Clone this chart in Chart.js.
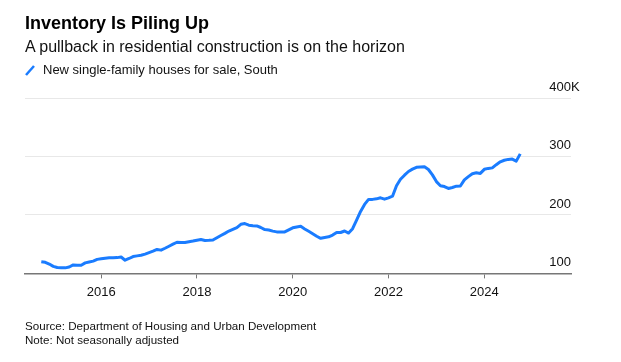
<!DOCTYPE html>
<html>
<head>
<meta charset="utf-8">
<script src="https://cdn.jsdelivr.net/npm/chart.js@4"></script>
<style>
  body { margin: 0; background: #fff; font-family: "Liberation Sans", Arial, sans-serif; }
  #wrap { position: relative; width: 621px; height: 362px; }
  canvas { position: absolute; left: 0; top: 0; }
  .t { position: absolute; left: 25px; white-space: nowrap; color: #000; }
  #title { top: 14px; font-size: 18px; line-height: 18px; font-weight: bold; }
  #sub { top: 39px; font-size: 16px; line-height: 16px; color: #111; }
  #legend { top: 63px; font-size: 13px; line-height: 13px; color: #111; }
  #legend svg { position: absolute; left: 0; top: 2px; }
  #legend span { margin-left: 18px; }
  #foot { top: 319px; font-size: 11.6px; line-height: 14px; color: #111; }
</style>
</head>
<body>
<div id="wrap">
  <canvas id="chart" width="621" height="362"></canvas>
  <div class="t" id="title">Inventory Is Piling Up</div>
  <div class="t" id="sub">A pullback in residential construction is on the horizon</div>
  <div class="t" id="legend">
    <svg width="10" height="11"><line x1="1" y1="10" x2="9" y2="1" stroke="#1a7cff" stroke-width="2.5"/></svg>
    <span>New single-family houses for sale, South</span>
  </div>
  <div class="t" id="foot">Source: Department of Housing and Urban Development<br>Note: Not seasonally adjusted</div>
</div>
<script>
// monthly, starting October 2014 (thousands of houses)
const startYear = 2014;
const startMonth = 10;
const housesForSale = [
  120, 119, 116, 112, 110, 109.5, 109.5, 111, 114.5, 114, 114, 118,
  119.5, 121, 124, 125, 126, 126.6, 126.6, 127, 128, 122.5, 125.5, 128.8,
  130, 131, 133, 135.5, 138, 141, 139.8, 143, 146.5, 150, 153.3, 153,
  152.8, 154, 155.3, 156.8, 158, 156.3, 156.5, 157, 161, 164.8, 168.5, 172.5,
  175.5, 178.4, 184, 185.2, 182.5, 181.5, 181.2, 178.5, 175, 174.2, 172.3, 171,
  171, 171, 174.5, 178, 179.5, 180.5, 176, 172, 167.8, 163.5, 160, 161.5,
  162.5, 165.5, 170, 170, 172.5, 169, 176.5, 191, 206, 218, 226.6, 226.6,
  227.5, 229.3, 227, 229.3, 232, 250, 261, 268, 274.3, 278.3, 281.5, 282.1,
  282.3, 277.7, 268.5, 257, 250, 248.5, 245.3, 247, 249.2, 249.5, 260, 265.5,
  270.5, 272, 271, 278, 279.6, 280.5, 286, 290.8, 293.5, 295, 295.5, 292,
  304.4
];
const xTicks = [2016, 2018, 2020, 2022, 2024];
const yTicks = [100, 200, 300, 400];

const fontFamily = '"Liberation Sans", Arial, sans-serif';

const points = housesForSale.map((v, i) => {
  const m = startMonth - 1 + i;
  return { x: startYear + Math.floor(m / 12) + (m % 12) / 12, y: v };
});

// the "K" hangs to the right of the top label
const kSuffix = {
  id: 'kSuffix',
  afterDraw(chart) {
    const y = chart.scales.y;
    const c = chart.ctx;
    c.save();
    c.font = '13px ' + fontFamily;
    c.fillStyle = '#111';
    c.textAlign = 'left';
    c.textBaseline = 'middle';
    c.fillText('K', chart.chartArea.right, y.getPixelForValue(400) - 11);
    c.restore();
  }
};

const ctx = document.getElementById('chart').getContext('2d');
new Chart(ctx, {
  type: 'line',
  data: {
    datasets: [{
      label: 'New single-family houses for sale, South',
      data: points,
      borderColor: '#1a7cff',
      borderWidth: 3,
      pointRadius: 0,
      tension: 0,
      borderJoinStyle: 'round'
    }]
  },
  options: {
    responsive: false,
    animation: false,
    layout: { padding: { left: 25, right: 50, top: 98, bottom: 56 } },
    plugins: {
      legend: { display: false },
      tooltip: { enabled: false }
    },
    scales: {
      x: {
        type: 'linear',
        min: 2014.41,
        max: 2025.81,
        afterBuildTicks: s => { s.ticks = xTicks.map(v => ({ value: v })); },
        ticks: {
          callback: v => String(v),
          font: { size: 13, family: fontFamily },
          color: '#111',
          padding: 6,
          maxRotation: 0
        },
        grid: { drawOnChartArea: false, tickLength: 5, color: '#777' },
        border: { color: '#777', width: 1.5 }
      },
      y: {
        position: 'right',
        min: 100,
        max: 400,
        afterBuildTicks: s => { s.ticks = yTicks.map(v => ({ value: v })); },
        ticks: {
          mirror: true,
          padding: 0,
          labelOffset: -11,
          font: { size: 13, family: fontFamily },
          color: '#111'
        },
        grid: { color: '#e8e8e8', drawTicks: false },
        border: { display: false }
      }
    }
  },
  plugins: [kSuffix]
});
</script>
</body>
</html>
